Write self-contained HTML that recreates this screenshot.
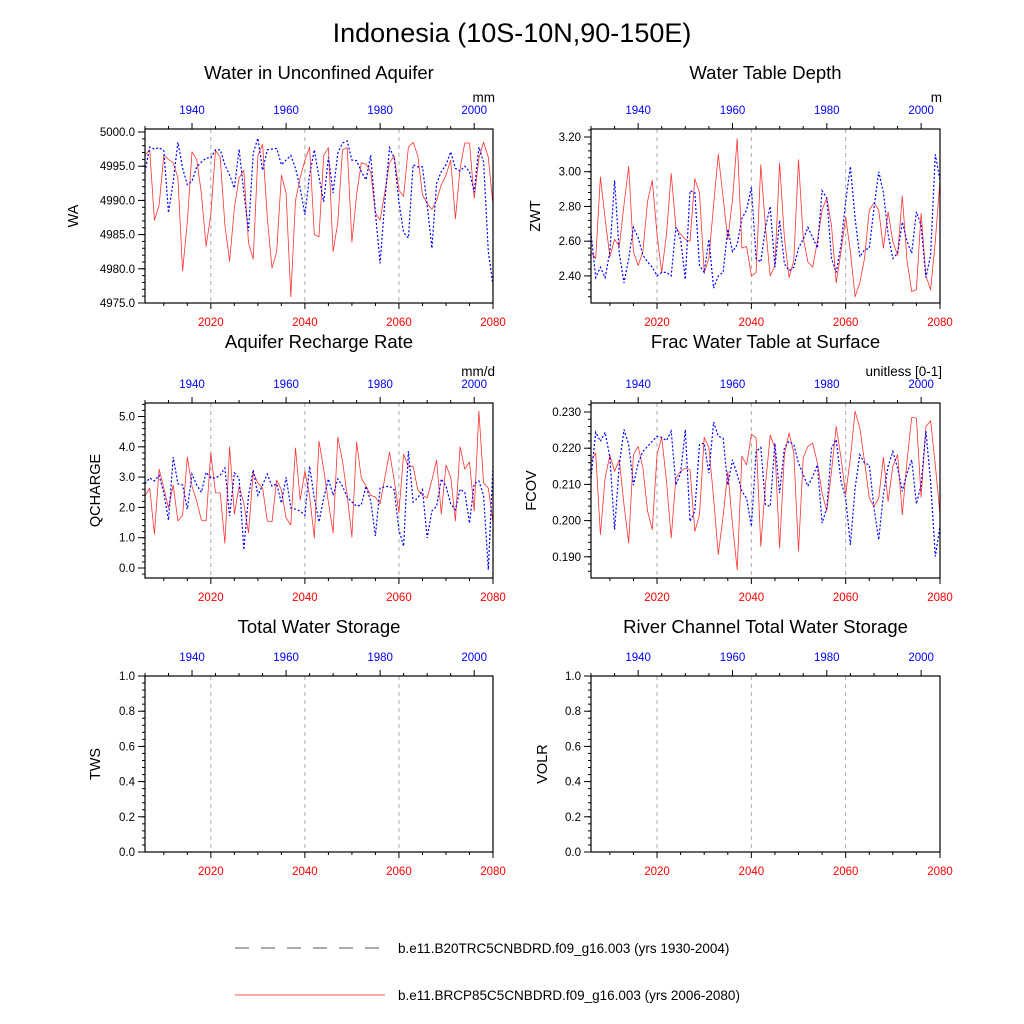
<!DOCTYPE html>
<html><head><meta charset="utf-8"><style>
html,body{margin:0;padding:0;background:#fff;width:1024px;height:1024px;overflow:hidden}
svg{font-family:"Liberation Sans",sans-serif}
</style></head><body>
<svg id="chart" width="1024" height="1024" viewBox="0 0 1024 1024" xmlns="http://www.w3.org/2000/svg">
<text x="512" y="42" font-size="27" text-anchor="middle">Indonesia (10S-10N,90-150E)</text>
<g id="panels"></g>
<g>
<line x1="235" y1="948" x2="385" y2="948" stroke="#555" stroke-width="1" stroke-dasharray="14,12"/>
<text x="398" y="953" font-size="13.5">b.e11.B20TRC5CNBDRD.f09_g16.003 (yrs 1930-2004)</text>
<line x1="235" y1="995" x2="385" y2="995" stroke="#f55" stroke-width="1"/>
<text x="398" y="1000" font-size="13.5">b.e11.BRCP85C5CNBDRD.f09_g16.003 (yrs 2006-2080)</text>
</g>
</svg>
<script>
const redYears = [2006, 2080];
const blueYears = [1930, 2004];
const bottomTickLabels = [2020, 2040, 2060, 2080];
const topTickLabels = [1940, 1960, 1980, 2000];
const waRed = [4996.6,4997.4,4987.1,4989.3,4996.6,4996,4995.5,4993.3,4979.7,4986.8,4997.1,4996,4991,4983.3,4987.9,4997.3,4996.3,4986.4,4981.1,4988.9,4993.3,4994.4,4983.8,4981.4,4996.6,4998.2,4987.4,4980.1,4982.5,4993.7,4991.1,4975.9,4990,4993.3,4995.9,4997.8,4985,4984.7,4996.6,4997.7,4982.5,4986.8,4997.4,4997.7,4983.9,4990.8,4995.5,4995.3,4994.2,4988.2,4987.1,4991.2,4995.5,4996.5,4991.5,4990.6,4997.8,4998.5,4996.5,4990.8,4989.5,4988.7,4990,4992.3,4993.7,4995.9,4987.3,4994.7,4998.4,4998.4,4990.3,4996.2,4998.5,4996.3,4989.3];
const waBlue = [4994.2,4997.8,4997.5,4997.7,4997.3,4988.2,4992.7,4998.5,4994.7,4992.3,4992.8,4994.9,4995.6,4996.2,4996.2,4997.4,4997.4,4995.2,4993.7,4991.8,4997.5,4991.2,4985.5,4996.9,4999.1,4994.4,4997.4,4997.5,4997.6,4995.2,4995.9,4996.6,4994.7,4991.8,4987.9,4993.7,4997.4,4993.4,4989.8,4996.3,4991.1,4996.9,4998.4,4998.7,4995.9,4995.8,4994.2,4993,4996.6,4988.2,4980.8,4989.8,4997.7,4996.2,4989.8,4985.3,4984.5,4995.2,4994.9,4994.9,4989.3,4983,4992.5,4994.2,4995.2,4997.1,4994.7,4994.3,4995,4994.2,4991.2,4997.8,4995.6,4982.5,4977.6];
const zwtRed = [2.537,2.50,2.97,2.73,2.51,2.61,2.57,2.81,3.03,2.54,2.46,2.54,2.83,2.95,2.64,2.42,2.64,2.99,2.68,2.64,2.61,2.60,2.96,2.88,2.42,2.50,2.81,3.10,2.85,2.61,2.84,3.19,2.56,2.57,2.40,2.42,3.04,2.68,2.40,2.46,3.05,2.62,2.39,2.49,3.07,2.62,2.48,2.45,2.60,2.78,2.85,2.69,2.36,2.54,2.74,2.54,2.28,2.36,2.50,2.78,2.82,2.78,2.56,2.77,2.60,2.52,2.86,2.49,2.31,2.32,2.76,2.40,2.32,2.60,2.95];
const zwtBlue = [2.65,2.39,2.45,2.39,2.54,2.95,2.53,2.36,2.50,2.68,2.62,2.52,2.48,2.45,2.40,2.42,2.42,2.40,2.68,2.61,2.38,2.89,2.88,2.46,2.42,2.61,2.33,2.40,2.42,2.67,2.54,2.58,2.73,2.78,2.91,2.50,2.48,2.68,2.80,2.45,2.72,2.47,2.43,2.45,2.56,2.61,2.68,2.62,2.56,2.89,2.85,2.50,2.42,2.58,2.83,3.03,2.73,2.51,2.55,2.56,2.79,3.00,2.88,2.64,2.50,2.53,2.71,2.60,2.53,2.77,2.69,2.39,2.52,3.10,2.95];
const qRed = [2.38,2.64,1.12,3.26,2.64,1.98,2.74,1.55,1.74,3.66,2.70,2.21,1.58,1.55,3.80,2.48,2.48,0.82,4.00,1.78,2.70,2.14,1.16,3.16,2.80,2.64,1.55,1.52,2.90,2.58,1.65,1.42,3.96,2.24,3.20,2.38,0.99,4.19,3.25,2.17,1.16,4.32,3.53,2.40,1.02,4.16,2.97,2.70,2.40,2.34,2.12,2.97,3.82,2.90,1.82,3.76,3.34,3.36,2.58,2.40,2.31,2.90,3.56,1.78,3.40,3.00,1.55,4.00,3.26,3.50,1.88,5.18,2.80,2.64,1.5];
const qBlue = [2.78,2.97,2.87,3.06,2.48,1.58,3.66,2.78,2.74,1.94,3.10,2.74,2.50,3.16,2.97,2.97,3.06,3.30,1.72,3.14,2.97,0.60,2.38,3.24,2.40,2.74,3.10,2.70,2.78,2.14,3.00,1.98,1.94,1.88,1.74,3.36,2.31,1.52,2.31,2.94,2.40,2.94,2.70,2.34,2.18,2.04,2.08,2.70,2.21,1.06,2.64,2.68,2.70,2.58,1.26,0.72,3.86,2.18,2.31,2.58,0.99,1.88,2.04,2.94,2.70,2.12,1.92,2.60,2.50,1.48,2.78,2.87,2.40,-0.06,3.36];
const fRed = [0.2164,0.2187,0.1961,0.2118,0.2180,0.2136,0.2168,0.2044,0.1938,0.2182,0.2205,0.2145,0.2026,0.1975,0.2182,0.2230,0.2109,0.1952,0.2118,0.2136,0.2145,0.2141,0.1970,0.2016,0.2230,0.2202,0.2062,0.1906,0.2012,0.2136,0.1989,0.1864,0.2178,0.2154,0.2239,0.2228,0.1929,0.2099,0.2236,0.2201,0.1924,0.2182,0.2242,0.2187,0.1915,0.2173,0.2205,0.2214,0.2159,0.2076,0.2026,0.2136,0.2260,0.2173,0.2072,0.2173,0.2302,0.2256,0.2164,0.2062,0.2039,0.2062,0.2175,0.2053,0.2150,0.2182,0.2016,0.2164,0.2285,0.2283,0.2064,0.2260,0.2276,0.2154,0.2016];
const fBlue = [0.2118,0.2244,0.2219,0.2244,0.2175,0.1975,0.2154,0.2251,0.2210,0.2098,0.2159,0.2191,0.2205,0.2219,0.2233,0.2230,0.2221,0.2247,0.2099,0.2131,0.2251,0.1998,0.2026,0.2210,0.2214,0.2131,0.2272,0.2233,0.2228,0.2098,0.2168,0.2127,0.2081,0.2062,0.1984,0.2191,0.2202,0.2044,0.2039,0.2214,0.2076,0.2201,0.2219,0.2210,0.2159,0.2127,0.2095,0.2122,0.2154,0.1993,0.2035,0.2201,0.2224,0.2109,0.2062,0.1933,0.2090,0.2182,0.2159,0.2154,0.2035,0.1947,0.2072,0.2150,0.2191,0.2145,0.2081,0.2131,0.2168,0.2046,0.2099,0.2247,0.2109,0.1901,0.1984];
const emptySeries = [];

const NS = 'http://www.w3.org/2000/svg';
const root = document.getElementById('panels');
function mk(tag, attrs, parent){const e=document.createElementNS(NS,tag);for(const k in attrs)e.setAttribute(k,attrs[k]);parent.appendChild(e);return e;}

const panels = [
 {id:'wa',title:'Water in Unconfined Aquifer',yt:'WA',unit:'mm',x0:145,x1:493,y0:129,y1:303,ty:79,ymin:4975,ymax:5000.44,major:5,minor:1,dec:1,red:waRed,blue:waBlue,ytx:78},
 {id:'zwt',title:'Water Table Depth',yt:'ZWT',unit:'m',x0:591,x1:940,y0:129,y1:303,ty:79,ymin:2.244,ymax:3.246,major:0.2,minor:0.04,dec:2,start:2.4,red:zwtRed,blue:zwtBlue,ytx:540},
 {id:'qcharge',title:'Aquifer Recharge Rate',yt:'QCHARGE',unit:'mm/d',x0:145,x1:493,y0:403,y1:578,ty:348,ymin:-0.33,ymax:5.446,major:1,minor:0.2,dec:1,start:0,end:5,red:qRed,blue:qBlue,ytx:100},
 {id:'fcov',title:'Frac Water Table at Surface',yt:'FCOV',unit:'unitless [0-1]',x0:591,x1:940,y0:403,y1:578,ty:348,ymin:0.18414,ymax:0.23249,major:0.01,minor:0.002,dec:3,start:0.19,red:fRed,blue:fBlue,ytx:536},
 {id:'tws',title:'Total Water Storage',yt:'TWS',unit:'',x0:145,x1:493,y0:676,y1:852,ty:633,ymin:0,ymax:1,major:0.2,minor:0.04,dec:1,red:emptySeries,blue:emptySeries,ytx:100},
 {id:'volr',title:'River Channel Total Water Storage',yt:'VOLR',unit:'',x0:591,x1:940,y0:676,y1:852,ty:633,ymin:0,ymax:1,major:0.2,minor:0.04,dec:1,red:emptySeries,blue:emptySeries,ytx:547}
];

panels.forEach(p=>{
  const g = mk('g',{},root);
  
  
  const xr = y=>p.x0+(y-redYears[0])*(p.x1-p.x0)/(redYears[1]-redYears[0]);
  const xb = y=>p.x0+(y-blueYears[0])*(p.x1-p.x0)/(blueYears[1]-blueYears[0]);
  const ys = v=>p.y1-(v-p.ymin)*(p.y1-p.y0)/(p.ymax-p.ymin);
  const cx=(p.x0+p.x1)/2;
  const t = mk('text',{x:cx,y:p.ty,'font-size':18.5,'text-anchor':'middle'},g); t.textContent=p.title;
  
  
  if(p.unit){const u=mk('text',{x:p.x1+2,y:p.y0-27,'font-size':13.5,'text-anchor':'end'},g);u.textContent=p.unit;
    
    }
  [2020,2040,2060].forEach(yr=>{const l=mk('line',{x1:xr(yr),x2:xr(yr),y1:p.y0,y2:p.y1,stroke:'#aaa','stroke-dasharray':'4,4','stroke-width':1},g);
    
    });
  for(let yr=2010;yr<=2080;yr+=5){const M=yr%20===0;mk('line',{x1:xr(yr),x2:xr(yr),y1:p.y1,y2:p.y1+(M?6:3),stroke:'#000'},g);}
  bottomTickLabels.forEach(yr=>{const tl=mk('text',{x:xr(yr),y:p.y1+23,'font-size':11.5,fill:'#f00','text-anchor':'middle'},g);tl.textContent=yr;
    
    });
  for(let yr=1930;yr<=2004;yr+=5){const M=yr%20===0;mk('line',{x1:xb(yr),x2:xb(yr),y1:p.y0,y2:p.y0-(M?6:3),stroke:'#000'},g);}
  topTickLabels.forEach(yr=>{const tl=mk('text',{x:xb(yr),y:p.y0-15,'font-size':11.5,fill:'#00f','text-anchor':'middle'},g);tl.textContent=yr;
    
    });
  const eps=1e-9;
  for(let v=Math.ceil(p.ymin/p.minor-eps)*p.minor; v<=p.ymax+eps; v+=p.minor){
    mk('line',{x1:p.x0,x2:p.x0-3,y1:ys(v),y2:ys(v),stroke:'#000'},g);}
  const st = p.start!==undefined?p.start:Math.ceil(p.ymin/p.major-eps)*p.major;
  const en = p.end!==undefined?p.end:p.ymax;
  for(let v=st; v<=en+eps; v+=p.major){
    mk('line',{x1:p.x0,x2:p.x0-7,y1:ys(v),y2:ys(v),stroke:'#000'},g);
    const tl=mk('text',{x:p.x0-10,y:ys(v)+4,'font-size':11.5,'text-anchor':'end'},g);tl.textContent=(Math.abs(v)<eps?0:v).toFixed(p.dec);
    
    
  }
  const yt=mk('text',{x:p.ytx,y:(p.y0+p.y1)/2,'font-size':14.5,'text-anchor':'middle',transform:`rotate(-90 ${p.ytx} ${(p.y0+p.y1)/2})`},g);yt.textContent=p.yt;
  
  
  if(p.red.length){
    const pts=p.red.map((v,i)=>xr(redYears[0]+i).toFixed(1)+','+ys(v).toFixed(1)).join(' ');
    const l=mk('polyline',{points:pts,fill:'none',stroke:'#f33','stroke-width':0.8,'stroke-linejoin':'round'},g);
    
    
  }
  if(p.blue.length){
    const pts=p.blue.map((v,i)=>xb(blueYears[0]+i).toFixed(1)+','+ys(v).toFixed(1)).join(' ');
    const l=mk('polyline',{points:pts,fill:'none',stroke:'#00f','stroke-width':1.2,'stroke-dasharray':'2,2'},g);
    
    
  }
  const b=mk('rect',{x:p.x0,y:p.y0,width:p.x1-p.x0,height:p.y1-p.y0,fill:'none',stroke:'#000','stroke-width':1.2},g);
  
  
});
</script>
</body></html>
